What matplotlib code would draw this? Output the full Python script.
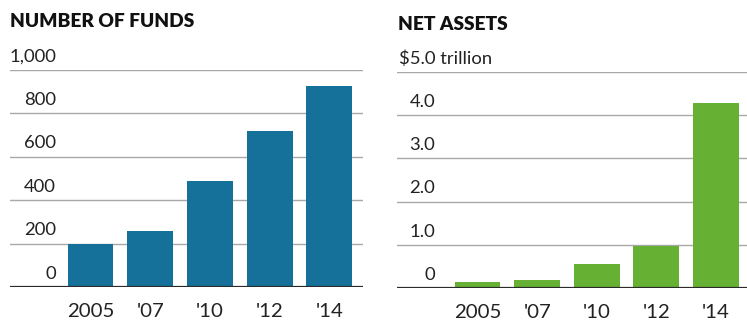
import matplotlib
matplotlib.use("Agg")
import matplotlib.pyplot as plt

plt.rcParams['font.family'] = ['Lato', 'DejaVu Sans']

years = ["2005", "'07", "'10", "'12", "'14"]
fund_counts = [200, 260, 490, 720, 925]
net_assets = [0.15, 0.19, 0.55, 0.98, 4.28]

fund_ticks = [0, 200, 400, 600, 800, 1000]
fund_tick_labels = ["0", "200", "400", "600", "800", "1,000"]
asset_ticks = [0, 1, 2, 3, 4]
asset_tick_labels = ["0", "1.0", "2.0", "3.0", "4.0"]
asset_top = 5
asset_top_label = "$5.0 trillion"

BLUE = "#15709a"
GREEN = "#66b133"
GRID = "#a8a8a8"
BASE = "#2b2b2b"
TEXT = "#222222"

W, H = 747, 320
fig = plt.figure(figsize=(W / 100, H / 100), dpi=100)
fig.patch.set_facecolor("white")


def px_rect(x0, x1, y_top, y_bot):
    return [x0 / W, 1 - y_bot / H, (x1 - x0) / W, (y_bot - y_top) / H]


def panel(rect, values, color, grid_vals, ticks, tick_labels, ymax, xlim, label_x):
    ax = fig.add_axes(rect)
    ax.set_xlim(*xlim)
    ax.set_ylim(0, ymax)
    for t in grid_vals:
        ax.axhline(t, color=GRID, lw=1.0, zorder=1)
    ax.axhline(0, color=BASE, lw=1.6, zorder=3)
    xs = list(range(len(values)))
    ax.bar(xs, values, width=0.77, color=color, zorder=2)
    for t, lab in zip(ticks, tick_labels):
        ax.annotate(lab, xy=(label_x, t), xycoords=("axes fraction", "data"),
                    xytext=(0, 9.6), textcoords="offset points",
                    ha="right", va="center", fontsize=13.3, color=TEXT)
    for x, lab in zip(xs, years):
        ax.annotate(lab, xy=(x, 0), xycoords="data",
                    xytext=(0, -17.5), textcoords="offset points",
                    ha="center", va="center", fontsize=14.7, color=TEXT)
    for s in ax.spines.values():
        s.set_visible(False)
    ax.set_xticks([])
    ax.set_yticks([])
    ax.patch.set_alpha(0)
    return ax


# Left panel: number of funds
ax1 = panel(px_rect(10, 363, 70, 287), fund_counts, BLUE, fund_ticks[1:],
            fund_ticks, fund_tick_labels, 1000, (-1.349, 4.566), (56 - 10) / 353)
fig.text(10 / W, 1 - 21.7 / H, "NUMBER OF FUNDS", ha="left", va="center",
         fontsize=13.8, fontweight="heavy", color="#111111")

# Right panel: net assets
ax2 = panel(px_rect(397, 747, 71.7, 288.3), net_assets, GREEN,
            asset_ticks[1:] + [asset_top], asset_ticks, asset_tick_labels,
            asset_top, (-1.351, 4.52), (435 - 397) / 350)
ax2.annotate(asset_top_label, xy=(1.7 / 350, asset_top), xycoords=("axes fraction", "data"),
             xytext=(0, 9.6), textcoords="offset points", ha="left", va="center",
             fontsize=13.3, color=TEXT)
fig.text(398.5 / W, 1 - 24 / H, "NET ASSETS", ha="left", va="center",
         fontsize=13.8, fontweight="heavy", color="#111111")

fig.savefig("out.png", dpi=100, facecolor="white")
